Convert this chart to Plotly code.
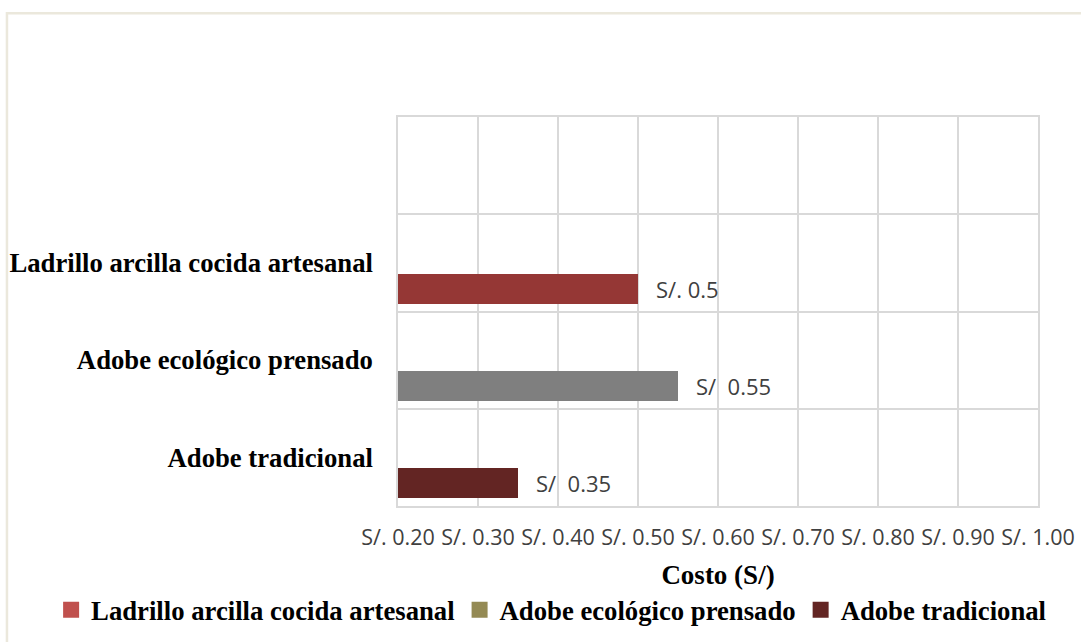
import plotly.graph_objects as go

# Materials (bottom to top on the chart) and their unit cost in soles
materiales = ["Adobe tradicional", "Adobe ecológico prensado", "Ladrillo arcilla cocida artesanal"]
costos = [0.35, 0.55, 0.50]
etiquetas = ["S/  0.35", "S/  0.55", "S/. 0.5"]

# Bar fill colours and the series colours shown in the legend
colores_barra = ["#632523", "#7f7f7f", "#953735"]
colores_leyenda = ["#632523", "#948a54", "#c0504d"]

# Legend order (left to right)
orden_leyenda = [2, 1, 0]

x_ticks = [0.2, 0.3, 0.4, 0.5, 0.6, 0.7, 0.8, 0.9, 1.0]
x_ticktext = [f"S/. {v:.2f}" for v in x_ticks]

SERIF = "Liberation Serif, Times New Roman, serif"
SANS = "Open Sans, Calibri, sans-serif"
GRID = "#d9d9d9"

BAR_OFFSET = -0.42
BAR_WIDTH = 0.31

fig = go.Figure()

for i, (nombre, valor, color) in enumerate(zip(materiales, costos, colores_barra)):
    fig.add_trace(go.Bar(
        y=[i], x=[valor], orientation="h",
        offset=BAR_OFFSET, width=BAR_WIDTH,
        marker=dict(color=color, line=dict(width=0)),
        name=nombre, showlegend=False, hoverinfo="x",
    ))

for i in orden_leyenda:
    fig.add_trace(go.Scatter(
        x=[None], y=[None], mode="markers",
        marker=dict(symbol="square", size=16, color=colores_leyenda[i]),
        name=materiales[i], showlegend=True,
    ))

# Value labels just past the end of each bar
for i, (valor, texto) in enumerate(zip(costos, etiquetas)):
    fig.add_annotation(
        x=valor, y=i + BAR_OFFSET + BAR_WIDTH / 2,
        text=texto, showarrow=False,
        xanchor="left", yanchor="middle", xshift=16,
        font=dict(family=SANS, size=22, color="#404040"),
    )

# Light frame around the whole chart
fig.add_shape(
    type="rect", xref="paper", yref="paper",
    x0=-0.611, x1=1.2, y0=-0.6, y1=1.267,
    line=dict(color="#ebe8dc", width=2.5), layer="below",
)

fig.update_layout(
    width=1081, height=642,
    margin=dict(l=398, r=43, t=117, b=136, autoexpand=False),
    paper_bgcolor="white", plot_bgcolor="white",
    bargap=0,
    xaxis=dict(
        range=[0.2, 1.0], tickmode="array", tickvals=x_ticks, ticktext=x_ticktext,
        showgrid=True, gridcolor=GRID, gridwidth=1.5,
        showline=True, linecolor=GRID, linewidth=1.5, mirror=True,
        zeroline=False, ticks="", ticklabelstandoff=11, automargin=False,
        tickfont=dict(family=SANS, size=21.5, color="#404040"),
        title=dict(text="Costo (S/)", standoff=16,
                   font=dict(family=SERIF, size=27, color="black", weight="bold")),
    ),
    yaxis=dict(
        range=[-0.5, 3.5], tickmode="array", tickvals=[0, 1, 2], ticktext=materiales,
        showgrid=False, zeroline=False,
        showline=True, linecolor=GRID, linewidth=1.5, mirror=True,
        ticks="", ticklabelstandoff=18, automargin=False,
        tickfont=dict(family=SERIF, size=26.7, color="black", weight="bold"),
        minor=dict(tickmode="array", tickvals=[-0.5, 0.5, 1.5, 2.5, 3.5],
                   showgrid=True, gridcolor=GRID, gridwidth=1.5, ticks=""),
    ),
    legend=dict(
        orientation="h",
        x=-0.542, xanchor="left", y=-0.267, yanchor="middle",
        font=dict(family=SERIF, size=26.7, color="black", weight="bold"),
        itemwidth=30, bgcolor="rgba(0,0,0,0)",
    ),
    showlegend=True,
)

fig.write_html("out.html")
